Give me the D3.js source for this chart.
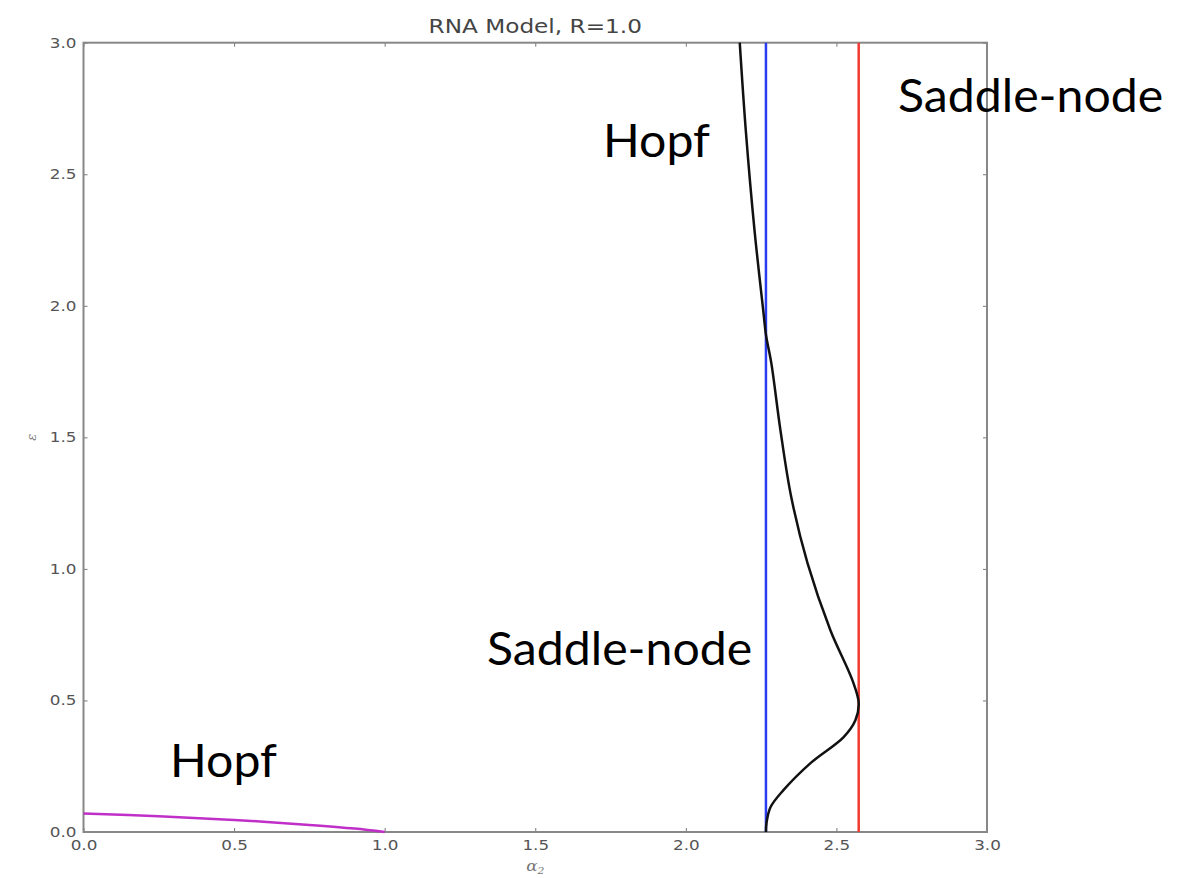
<!DOCTYPE html>
<html>
<head>
<meta charset="utf-8">
<script src="https://cdn.jsdelivr.net/npm/d3@7"></script>
<style>
  body { margin: 0; background: #fff; }
</style>
</head>
<body>
<div id="chart-area"></div>
<script>
//============================DATA============================
var xTicks = [0.0, 0.5, 1.0, 1.5, 2.0, 2.5, 3.0];
var yTicks = [0.0, 0.5, 1.0, 1.5, 2.0, 2.5, 3.0];

// hopf branch near the origin (magenta)
var hopfLow = [[0.0, 0.070], [0.25, 0.060], [0.5, 0.046], [0.75, 0.027], [0.9, 0.013], [1.0, 0.0]];

// hopf curve (black), from bottom to top
var hopfCurve = [
  [2.266, 0.0], [2.268, 0.035], [2.281, 0.094], [2.324, 0.159], [2.414, 0.262],
  [2.524, 0.361], [2.563, 0.425], [2.574, 0.490], [2.553, 0.577], [2.480, 0.767],
  [2.404, 1.022], [2.350, 1.273], [2.314, 1.528], [2.284, 1.781], [2.266, 1.890],
  [2.258, 1.972], [2.228, 2.288], [2.199, 2.668], [2.179, 3.0]
];

// saddle-node lines
var saddleBlue = 2.266;
var saddleRed = 2.574;

var labels = [
  { text: "Saddle-node", x: 898, y: 112 },
  { text: "Hopf", x: 603, y: 157 },
  { text: "Saddle-node", x: 487, y: 665 },
  { text: "Hopf", x: 170, y: 777 }
];

//============================LAYOUT============================
var margins = { left: 83.5, right: 210, top: 42.7, bottom: 46 };
var W = 1197, H = 878;
var width = W - margins.left - margins.right;
var height = H - margins.top - margins.bottom;
var stretch = 1.2; // the source picture is wider than tall, text too

var svg = d3.select("#chart-area")
    .append("svg")
    .attr("width", W)
    .attr("height", H);

var g = svg.append("g")
    .attr("transform", "translate(" + margins.left + "," + margins.top + ")");

var x = d3.scaleLinear().domain([0, 3]).range([0, width]);
var y = d3.scaleLinear().domain([0, 3]).range([height, 0]);

var tickColor = "#777";

// bottom axis
var xb = g.append("g")
    .attr("transform", "translate(0," + height + ")")
    .call(d3.axisBottom(x).tickValues(xTicks).tickFormat(d3.format(".1f")).tickSizeInner(-4).tickSizeOuter(0).tickPadding(8));
// top axis (ticks only)
var xt = g.append("g")
    .call(d3.axisTop(x).tickValues(xTicks).tickFormat("").tickSizeInner(-4).tickSizeOuter(0));
// left axis
var yl = g.append("g")
    .call(d3.axisLeft(y).tickValues(yTicks).tickFormat(d3.format(".1f")).tickSizeInner(-4).tickSizeOuter(0).tickPadding(7));
// right axis (ticks only)
var yr = g.append("g")
    .attr("transform", "translate(" + width + ",0)")
    .call(d3.axisRight(y).tickValues(yTicks).tickFormat("").tickSizeInner(-4).tickSizeOuter(0));

[xb, xt, yl, yr].forEach(function(a) {
  a.select(".domain").remove();
  a.selectAll(".tick line").attr("stroke", tickColor).attr("stroke-width", 1);
  a.selectAll(".tick text")
    .attr("fill", "#555")
    .attr("font-family", "DejaVu Sans, sans-serif")
    .attr("font-size", "14px");
});
// widen tick labels like the source
xb.selectAll(".tick text").attr("transform", "scale(" + stretch + ",1)");
yl.selectAll(".tick text")
    .attr("x", -7 / stretch)
    .attr("transform", "scale(" + stretch + ",1)");

// frame
g.append("rect")
    .attr("x", 0).attr("y", 0)
    .attr("width", width).attr("height", height)
    .attr("fill", "none")
    .attr("stroke", "#888")
    .attr("stroke-width", 2);

// lines
var line = d3.line()
    .x(function(d) { return x(d[0]); })
    .y(function(d) { return y(d[1]); })
    .curve(d3.curveCatmullRom.alpha(0.5));

g.append("path")
    .datum(hopfLow)
    .attr("fill", "none")
    .attr("stroke", "#c030c8")
    .attr("stroke-width", 2.5)
    .attr("d", line);

g.append("line")
    .attr("x1", x(saddleBlue)).attr("x2", x(saddleBlue))
    .attr("y1", y(0)).attr("y2", y(3))
    .attr("stroke", "#2a3cf0")
    .attr("stroke-width", 2.5);

g.append("line")
    .attr("x1", x(saddleRed)).attr("x2", x(saddleRed))
    .attr("y1", y(0)).attr("y2", y(3))
    .attr("stroke", "#f03a32")
    .attr("stroke-width", 2.5);

g.append("path")
    .datum(hopfCurve)
    .attr("fill", "none")
    .attr("stroke", "#111")
    .attr("stroke-width", 2.5)
    .attr("d", line);

// title
svg.append("text")
    .attr("transform", "translate(" + (margins.left + width / 2) + ",33) scale(1.22,1)")
    .attr("text-anchor", "middle")
    .attr("font-family", "DejaVu Sans, sans-serif")
    .attr("font-size", "19px")
    .attr("fill", "#444")
    .text("RNA Model, R=1.0");

// axis labels
svg.append("text")
    .attr("transform", "translate(" + (margins.left + x(1.5)) + ",871) scale(" + stretch + ",1)")
    .attr("text-anchor", "middle")
    .attr("font-family", "DejaVu Serif, serif")
    .attr("font-style", "italic")
    .attr("font-size", "14px")
    .attr("fill", "#777")
    .html("α<tspan font-size='9px' dy='3'>2</tspan>");

svg.append("text")
    .attr("transform", "translate(36," + (margins.top + y(1.5)) + ") rotate(-90)")
    .attr("text-anchor", "middle")
    .attr("font-family", "DejaVu Serif, serif")
    .attr("font-style", "italic")
    .attr("font-size", "13px")
    .attr("fill", "#777")
    .text("ε");

// annotations
svg.selectAll(".anno")
    .data(labels)
    .enter().append("text")
    .attr("class", "anno")
    .attr("transform", function(d) { return "translate(" + d.x + "," + d.y + ") scale(1.048,1)"; })
    .attr("font-family", "Lato, sans-serif")
    .attr("font-size", "46px")
    .attr("fill", "#000")
    .text(function(d) { return d.text; });
</script>
</body>
</html>
